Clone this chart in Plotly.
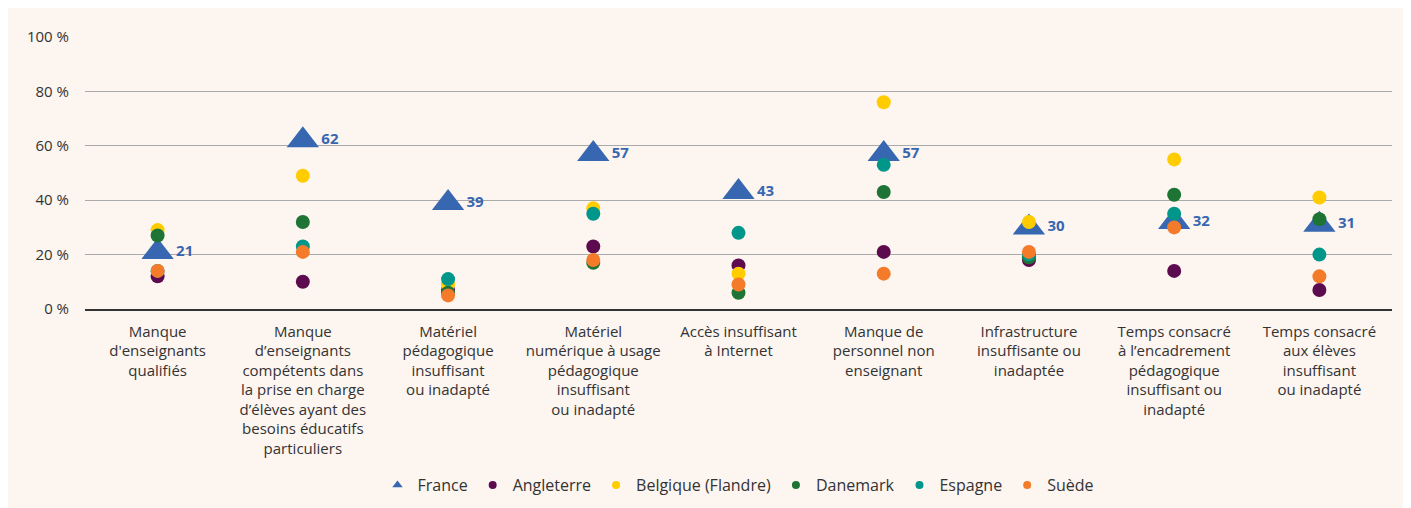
import plotly.graph_objects as go

categories = [
    "Manque<br>d'enseignants<br>qualifiés",
    "Manque<br>d’enseignants<br>compétents dans<br>la prise en charge<br>d’élèves ayant des<br>besoins éducatifs<br>particuliers",
    "Matériel<br>pédagogique<br>insuffisant<br>ou inadapté",
    "Matériel<br>numérique à usage<br>pédagogique<br>insuffisant<br>ou inadapté",
    "Accès insuffisant<br>à Internet",
    "Manque de<br>personnel non<br>enseignant",
    "Infrastructure<br>insuffisante ou<br>inadaptée",
    "Temps consacré<br>à l’encadrement<br>pédagogique<br>insuffisant ou<br>inadapté",
    "Temps consacré<br>aux élèves<br>insuffisant<br>ou inadapté",
]

france = [21, 62, 39, 57, 43, 57, 30, 32, 31]
angleterre = [12, 10, 7, 23, 16, 21, 18, 14, 7]
belgique = [29, 49, 9, 37, 13, 76, 32, 55, 41]
danemark = [27, 32, 6, 17, 6, 43, 19, 42, 33]
espagne = [14, 23, 11, 35, 28, 53, 20, 35, 20]
suede = [14, 21, 5, 18, 9, 13, 21, 30, 12]

y_ticks = [0, 20, 40, 60, 80, 100]
y_ticktext = [f"{v} %" for v in y_ticks]

FONT = "'Open Sans', Lato, sans-serif"
TEXT = "#333333"

fig = go.Figure()

# France (triangles with labels)
fig.add_trace(go.Scatter(
    x=categories, y=france, mode="markers+text", name="France",
    marker=dict(symbol="triangle-up", size=28, color="#3767b1"),
    text=[str(v) for v in france], textposition="middle right",
    textfont=dict(family=FONT, size=15, color="#3767b1", weight="bold"),
    showlegend=False, cliponaxis=False,
))

others = [
    ("Angleterre", angleterre, "#5c0b4f"),
    ("Belgique (Flandre)", belgique, "#ffcc00"),
    ("Danemark", danemark, "#1e7434"),
    ("Espagne", espagne, "#00968a"),
    ("Suède", suede, "#f47b2a"),
]
for name, vals, col in others:
    fig.add_trace(go.Scatter(
        x=categories, y=vals, mode="markers", name=name,
        marker=dict(symbol="circle", size=14, color=col),
        showlegend=False, cliponaxis=False,
    ))

# legend entries with small symbols
fig.add_trace(go.Scatter(x=[None], y=[None], mode="markers", name="France",
                         marker=dict(symbol="triangle-up", size=9, color="#3767b1")))
for name, vals, col in others:
    fig.add_trace(go.Scatter(x=[None], y=[None], mode="markers", name=name,
                             marker=dict(symbol="circle", size=8, color=col)))

W, H = 1403, 500
L, R, T, B = 77, 19, 29, 199

fig.update_layout(
    width=W, height=H,
    margin=dict(l=L, r=R, t=T, b=B, autoexpand=False),
    paper_bgcolor="#fdf5f0", plot_bgcolor="rgba(0,0,0,0)",
    font=dict(family=FONT, size=15, color=TEXT),
    showlegend=True,
    legend=dict(orientation="h", x=0.5, xanchor="center",
                yref="container", y=23 / H, yanchor="middle",
                font=dict(size=16, color=TEXT), bgcolor="rgba(0,0,0,0)",
                itemwidth=30, tracegroupgap=0),
)
fig.update_xaxes(
    type="category", showgrid=False, showline=True, linecolor="#333333", linewidth=1.5,
    tickfont=dict(size=15, color=TEXT), ticks="outside", ticklen=8, tickcolor="rgba(0,0,0,0)",
    range=[-0.5, 8.5], fixedrange=True, automargin=False,
)
fig.update_yaxes(
    range=[0, 100], tickmode="array", tickvals=y_ticks, ticktext=y_ticktext, showgrid=True,
    gridcolor="#aaaaaa", gridwidth=1, zeroline=False, showline=False,
    tickfont=dict(size=15, color=TEXT), ticks="outside", ticklen=12,
    tickcolor="rgba(0,0,0,0)", automargin=False,
)

fig.write_html("out.html")
